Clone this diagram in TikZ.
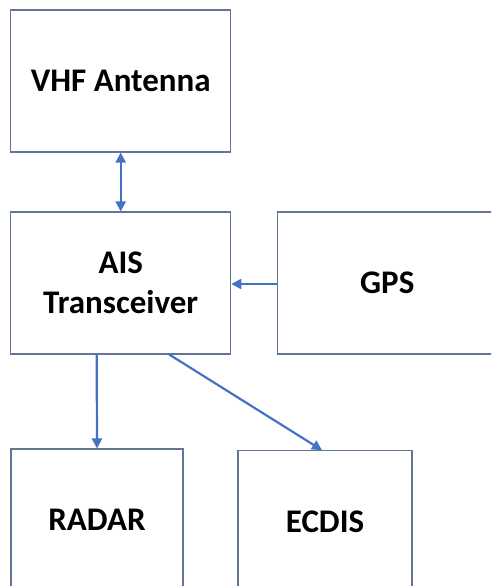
\documentclass[tikz,border=0pt]{standalone}
\usepackage{fontspec}
\setmainfont{Carlito}
\usetikzlibrary{arrows.meta}
\definecolor{boxline}{RGB}{100,118,150}
\definecolor{arrowblue}{RGB}{68,114,196}
\tikzset{
  unit/.style={draw=boxline,line width=1.1pt,fill=white,align=center,
    font=\fontsize{33}{40}\selectfont\bfseries,inner sep=0pt},
  link/.style={draw=arrowblue,line width=2.2pt,-{Triangle[length=10pt,width=10pt]}},
  dlink/.style={link,{Triangle[length=10pt,width=10pt]}-{Triangle[length=10pt,width=10pt]}}
}
\begin{document}
\begin{tikzpicture}[x=1pt,y=-1pt]
      \useasboundingbox (0,0) rectangle (491,586);
      \clip (0,0) rectangle (491,586);
      \node[unit,minimum width=220pt,minimum height=142pt] (vhf) at (120.7,81) {VHF Antenna};
      \node[unit,minimum width=220pt,minimum height=142pt] (ais) at (120.7,283) {AIS\\Transceiver};
      \node[unit,minimum width=220pt,minimum height=142pt] (gps) at (387.3,283) {GPS};
      \node[unit,minimum width=172pt,minimum height=142pt] (radar) at (97,520) {RADAR};
      \node[unit,minimum width=174pt,minimum height=142pt] (ecdis) at (325,521.7) {ECDIS};
      \draw[dlink] (vhf.south) -- (ais.north);
      \draw[link] ([yshift=-1pt]gps.west) -- ([yshift=-1pt]ais.east);
      \draw[link] ([xshift=-24pt]ais.south) -- (radar.north);
      \draw[link] ([xshift=48.6pt]ais.south) -- ([xshift=-3pt]ecdis.north);
  \end{tikzpicture}
\end{document}
